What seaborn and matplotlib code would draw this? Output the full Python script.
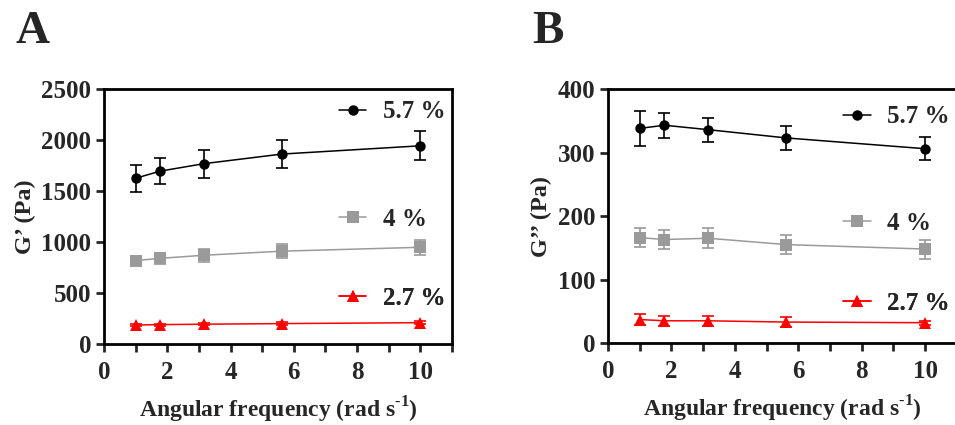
import matplotlib
matplotlib.use("Agg")
import matplotlib.pyplot as plt
from matplotlib.lines import Line2D
from matplotlib.ticker import MultipleLocator
import pandas as pd
import seaborn as sns

# angular frequency (rad/s)
freq = [1.0, 1.78, 3.16, 5.62, 10.0]
conc_labels = ["5.7 %", "4 %", "2.7 %"]

# storage modulus G' (Pa)
g1_57 = [1625, 1695, 1768, 1862, 1943]
g1_57_err = [130, 128, 137, 135, 144]
g1_40 = [818, 840, 870, 910, 948]
g1_40_err = [40, 55, 62, 70, 72]
g1_27 = [186, 190, 194, 200, 209]
g1_27_err = [10, 10, 10, 12, 12]

# loss modulus G'' (Pa)
g2_57 = [338, 343, 336, 323, 306]
g2_57_err = [28, 20, 19, 19, 18]
g2_40 = [166, 163, 165, 155, 148]
g2_40_err = [15, 15, 16, 15, 15]
g2_27 = [37, 35, 35, 33, 32]
g2_27_err = [9, 8, 8, 8, 3]

colors = ["black", "#9a9a9a", "#ff0000"]
markers = ["o", "s", "^"]
msizes = [7.5, 8, 8]

sns.set_style("ticks")
plt.rcParams["font.family"] = ["Liberation Serif", "DejaVu Serif"]
plt.rcParams["font.weight"] = "bold"
plt.rcParams["axes.labelweight"] = "bold"
plt.rcParams["mathtext.fontset"] = "custom"
plt.rcParams["mathtext.bf"] = "Liberation Serif:bold"
plt.rcParams["mathtext.rm"] = "Liberation Serif:bold"

fig = plt.figure(figsize=(9.55, 4.25), dpi=100)
axA = fig.add_axes([0.1089, 0.1906, 0.3644, 0.600])
axB = fig.add_axes([0.6366, 0.1929, 0.3654, 0.5976])


def draw_panel(ax, series, errs, ylim, ystep, ylabel, leg_y):
    for i, (vals, err) in enumerate(zip(series, errs)):
        df = pd.DataFrame({"freq": freq, "mod": vals})
        ax.errorbar(freq, vals, yerr=err, fmt="none", ecolor=colors[i],
                    elinewidth=1.2, capsize=4, capthick=1.2, zorder=2)
        sns.lineplot(data=df, x="freq", y="mod", ax=ax, color=colors[i],
                     marker=markers[i], markersize=msizes[i],
                     markeredgewidth=0, linewidth=1.1, zorder=3)
        handle = Line2D([], [], color=colors[i], marker=markers[i],
                        markersize=msizes[i], markeredgewidth=0, linewidth=1.1)
        leg = ax.legend([handle], [conc_labels[i]], loc="center left",
                        bbox_to_anchor=(0.675, leg_y[i]), frameon=False,
                        handlelength=1.1, handletextpad=0.65, borderpad=0,
                        borderaxespad=0,
                        prop={"family": "Liberation Serif", "weight": "bold", "size": 18})
        ax.add_artist(leg)

    ax.set_xlim(0, 11)
    ax.set_ylim(*ylim)
    ax.xaxis.set_major_locator(MultipleLocator(2))
    ax.xaxis.set_minor_locator(MultipleLocator(1))
    ax.yaxis.set_major_locator(MultipleLocator(ystep))
    for s in ax.spines.values():
        s.set_linewidth(2)
        s.set_color("black")
    ax.tick_params(axis="both", which="both", direction="out", length=6,
                   width=2, labelsize=18, pad=3)
    ax.tick_params(axis="x", pad=6)
    for lab in ax.get_xticklabels() + ax.get_yticklabels():
        lab.set_fontweight("bold")
    ax.set_xlabel(r"Angular frequency (rad s$^{\text{-1}}$)", fontsize=17,
                  fontweight="bold", labelpad=8)
    ax.set_ylabel(ylabel, fontsize=17.5, fontweight="bold", labelpad=4)


draw_panel(axA, [g1_57, g1_40, g1_27], [g1_57_err, g1_40_err, g1_27_err],
           (0, 2500), 500, "G’ (Pa)", [0.91, 0.49, 0.18])
draw_panel(axB, [g2_57, g2_40, g2_27], [g2_57_err, g2_40_err, g2_27_err],
           (0, 400), 100, "G’’ (Pa)", [0.89, 0.47, 0.157])

fig.text(0.016, 0.975, "A", fontsize=34, fontweight="bold", va="top",
         family="Liberation Serif")
fig.text(0.557, 0.975, "B", fontsize=34, fontweight="bold", va="top",
         family="Liberation Serif")

fig.savefig("out.png", dpi=100)
